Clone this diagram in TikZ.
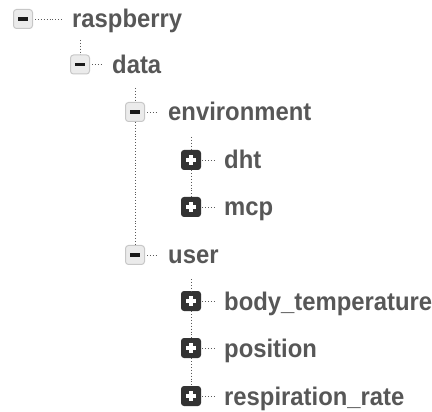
\documentclass[tikz,border=0pt]{standalone}
\usepackage{fontspec}
\setmainfont{Liberation Sans}
\newcommand{\lbl}[1]{\scalebox{0.935}[1]{#1}}
\begin{document}
\begin{tikzpicture}[x=1pt,y=-1pt,
  conn/.style={draw=black!65, dotted, line width=0.9pt},
  openbox/.style={draw=black!22, fill=black!8, rounded corners=3pt, minimum size=19pt, inner sep=0pt, line width=1pt},
  closedbox/.style={fill=black!80, rounded corners=3pt, minimum size=20pt, inner sep=0pt},
  label/.style={anchor=base west, inner sep=0pt, text=black!66, font=\bfseries\fontsize{25.5}{25.5}\selectfont}]
  \useasboundingbox (0,0) rectangle (432,412);
  % rows
  \def\rowA{19}\def\rowB{64.5}\def\rowC{112}\def\rowD{160}\def\rowE{207}
  \def\rowF{255}\def\rowG{301}\def\rowH{348}\def\rowI{396}
  % expand / collapse boxes
  \node[openbox] (r) at (23,\rowA) {};
  \node[openbox] (d) at (80,\rowB) {};
  \node[openbox] (e) at (135,\rowC) {};
  \node[closedbox] (dh) at (191,\rowD) {};
  \node[closedbox] (m) at (191,\rowE) {};
  \node[openbox] (u) at (135,\rowF) {};
  \node[closedbox] (bt) at (191,\rowG) {};
  \node[closedbox] (p) at (191,\rowH) {};
  \node[closedbox] (rr) at (191,\rowI) {};
  % glyphs inside the boxes
  \foreach \b in {r,d,e,u}
    \fill[black!90] ([xshift=-5pt,yshift=-1.8pt]\b.center) rectangle ([xshift=5pt,yshift=1.8pt]\b.center);
  \foreach \b in {dh,m,bt,p,rr}{
    \fill[white] ([xshift=-5pt,yshift=-1.6pt]\b.center) rectangle ([xshift=5pt,yshift=1.6pt]\b.center);
    \fill[white] ([xshift=-1.6pt,yshift=-5pt]\b.center) rectangle ([xshift=1.6pt,yshift=5pt]\b.center);
  }
  % labels
  \node[label] (tr) at (72,\rowA+9) {\lbl{raspberry}};
  \node[label] (td) at (112,\rowB+9) {\lbl{data}};
  \node[label] (te) at (168,\rowC+9) {\lbl{environment}};
  \node[label] (tdh) at (224,\rowD+9) {\lbl{dht}};
  \node[label] (tm) at (224,\rowE+9) {\lbl{mcp}};
  \node[label] (tu) at (168,\rowF+9) {\lbl{user}};
  \node[label] (tbt) at (224,\rowG+9) {\lbl{body\_temperature}};
  \node[label] (tp) at (224,\rowH+9) {\lbl{position}};
  \node[label] (trr) at (224,\rowI+9) {\lbl{respiration\_rate}};
  % free ends of the vertical connectors
  \coordinate (cd) at (80,40);
  \coordinate (ce) at (135,88);
  \coordinate (cdh) at (191,137);
  \coordinate (cbt) at (191,279);
  % horizontal connectors
  \draw[conn] ([xshift=2pt]r.east) -- ([xshift=40pt]r.center);
  \foreach \b in {d,e,u}
    \draw[conn] ([xshift=2pt]\b.east) -- ([xshift=23pt]\b.center);
  \foreach \b in {dh,m,bt,p,rr}
    \draw[conn] ([xshift=1pt]\b.east) -- ([xshift=23pt]\b.center);
  % vertical connectors
  \draw[conn] (cd) -- (d.north);
  \draw[conn] (ce) -- (e.north);
  \draw[conn] (e.south) -- (u.north);
  \draw[conn] (cdh) -- (dh.north);
  \draw[conn] (dh.south) -- (m.north);
  \draw[conn] (cbt) -- (bt.north);
  \draw[conn] (bt.south) -- (p.north);
  \draw[conn] (p.south) -- (rr.north);
\end{tikzpicture}
\end{document}
